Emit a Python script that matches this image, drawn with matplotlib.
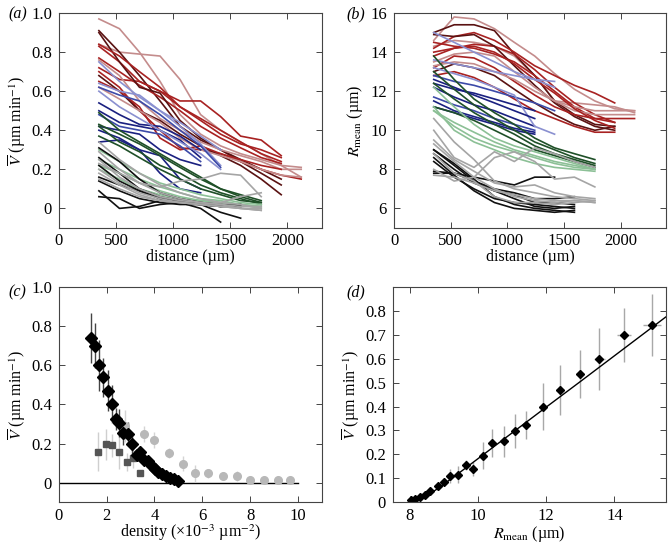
import matplotlib
matplotlib.use('Agg')
from matplotlib import pyplot

pyplot.rcParams['font.family'] = ['Liberation Serif', 'DejaVu Serif']
pyplot.rcParams['mathtext.fontset'] = 'stix'
pyplot.rcParams['font.size'] = 11

# positions along the tissue (um)
DIST = [350, 530, 705, 885, 1060, 1240, 1415, 1590, 1770, 1945, 2120]

# colours of each track family
DARKRED, RED, ROSY = '#5a1212', '#a82222', '#c48c8c'
NAVY, BLUE, LBLUE = '#1a2080', '#3c4aa8', '#8a90d0'
DGREEN, LGREEN = '#1f5028', '#8cc096'
BLACK, GREY = '#111111', '#a5a5a5'

RED_COLORS = [ROSY, ROSY, DARKRED, RED, RED, RED, DARKRED, ROSY, RED, DARKRED, RED, ROSY, RED]
RED_V = [
    [0.97, 0.92, 0.80, 0.65, 0.48, 0.38, 0.32, 0.28, 0.25, 0.22, 0.21],
    [0.84, 0.80, 0.79, 0.78, 0.66, 0.48, 0.40, 0.34, 0.28, 0.22, 0.16],
    [0.91, 0.80, 0.68, 0.55, 0.42, 0.35, 0.30, 0.25, 0.20, 0.15],
    [0.83, 0.75, 0.65, 0.60, 0.55, 0.55, 0.47, 0.37, 0.35, 0.27],
    [0.77, 0.70, 0.63, 0.57, 0.50, 0.42, 0.36, 0.31, 0.26, 0.23],
    [0.72, 0.66, 0.65, 0.60, 0.52, 0.46, 0.40, 0.34, 0.28, 0.24],
    [0.90, 0.75, 0.62, 0.59, 0.45, 0.36, 0.30, 0.24, 0.18, 0.12],
    [0.76, 0.68, 0.55, 0.46, 0.40, 0.34, 0.30, 0.27, 0.24, 0.20, 0.20],
    [0.70, 0.62, 0.50, 0.40, 0.31, 0.30, 0.28, 0.24, 0.20, 0.17, 0.15],
    [0.68, 0.60, 0.50, 0.45, 0.38, 0.32, 0.27, 0.22, 0.15, 0.07],
    [0.65, 0.60, 0.52, 0.36, 0.30, 0.32, 0.28, 0.25, 0.22, 0.20],
    [0.62, 0.56, 0.50, 0.44, 0.36, 0.30, 0.27, 0.24, 0.20, 0.17, 0.16],
    [0.84, 0.78, 0.70, 0.62, 0.52, 0.45, 0.38, 0.33, 0.30, 0.26],
]
RED_R = [
    [14.6, 15.8, 15.7, 15.2, 14.5, 13.8, 12.9, 12.1, 11.5, 11.1, 11.0],
    [14.3, 14.6, 14.5, 14.3, 13.8, 12.8, 11.5, 11.4, 11.3, 11.2, 10.9],
    [15.0, 15.4, 15.4, 15.1, 13.9, 12.8, 11.5, 10.8, 10.3, 10.2],
    [14.2, 14.8, 15.0, 14.6, 14.0, 13.3, 12.8, 12.3, 11.9, 11.4],
    [13.8, 14.2, 14.4, 14.3, 13.9, 13.1, 12.2, 11.4, 10.8, 10.4],
    [14.5, 14.3, 14.2, 13.9, 13.5, 12.8, 12.0, 11.2, 10.6, 10.4],
    [14.9, 14.8, 14.9, 14.3, 13.3, 12.3, 11.4, 10.7, 10.2, 10.0],
    [13.5, 13.9, 14.0, 13.8, 13.0, 12.2, 11.5, 11.0, 10.8, 10.8, 10.8],
    [13.2, 13.8, 13.7, 13.2, 12.5, 11.8, 11.2, 10.8, 10.6, 10.6, 10.6],
    [13.0, 13.4, 13.2, 12.8, 12.1, 11.4, 10.8, 10.3, 10.0, 10.2],
    [12.8, 13.0, 12.7, 12.2, 11.6, 11.0, 10.6, 10.2, 9.9, 9.9],
    [13.3, 13.5, 13.4, 13.0, 12.6, 12.0, 11.5, 11.2, 11.0, 11.0, 11.0],
    [14.0, 14.2, 14.3, 14.0, 13.4, 12.6, 11.9, 11.1, 10.5, 10.1],
]

BLUE_COLORS = [LBLUE, LBLUE, BLUE, NAVY, NAVY, BLUE, NAVY, NAVY, LBLUE, NAVY]
BLUE_V = [
    [0.75, 0.65, 0.57, 0.50, 0.44, 0.37, 0.30],
    [0.64, 0.60, 0.58, 0.50, 0.42, 0.33, 0.22],
    [0.62, 0.58, 0.55, 0.48, 0.40, 0.32, 0.21],
    [0.54, 0.48, 0.43, 0.42, 0.37, 0.30],
    [0.50, 0.44, 0.42, 0.40, 0.35, 0.26],
    [0.48, 0.42, 0.40, 0.38, 0.32, 0.24],
    [0.42, 0.40, 0.38, 0.30, 0.25, 0.22],
    [0.34, 0.35, 0.30, 0.27, 0.15, 0.10],
    [0.60, 0.52, 0.46, 0.40, 0.34, 0.28, 0.20],
    [0.40, 0.36, 0.30, 0.18, 0.10, 0.08],
]
BLUE_R = [
    [15.0, 14.5, 14.0, 13.5, 13.0, 12.6, 12.2],
    [13.6, 13.4, 13.2, 13.0, 12.8, 12.6, 12.5],
    [12.8, 12.5, 12.3, 12.0, 11.7, 11.4, 11.0],
    [12.4, 12.1, 11.9, 11.6, 11.3, 11.0],
    [12.2, 11.7, 11.3, 11.0, 10.6, 10.2],
    [11.7, 11.3, 11.0, 10.6, 10.3, 10.0],
    [11.5, 11.0, 10.7, 10.4, 10.1, 9.9],
    [11.2, 10.9, 10.6, 10.3, 10.0, 9.8],
    [13.2, 12.9, 12.6, 12.2, 11.8, 10.2, 9.8],
    [12.6, 12.2, 11.8, 11.4, 11.0, 10.6],
]

GREEN_COLORS = [DGREEN, DGREEN, DGREEN, DGREEN, LGREEN, LGREEN, LGREEN, LGREEN]
GREEN_V = [
    [0.49, 0.40, 0.34, 0.28, 0.22, 0.16, 0.10, 0.07, 0.04],
    [0.43, 0.38, 0.33, 0.27, 0.21, 0.15, 0.10, 0.06, 0.03],
    [0.42, 0.34, 0.29, 0.22, 0.18, 0.12, 0.08, 0.05, 0.02],
    [0.37, 0.32, 0.26, 0.20, 0.15, 0.10, 0.07, 0.04, 0.03],
    [0.30, 0.24, 0.18, 0.13, 0.10, 0.07, 0.05, 0.03, 0.02],
    [0.25, 0.20, 0.15, 0.11, 0.08, 0.05, 0.04, 0.02, 0.01],
    [0.22, 0.18, 0.13, 0.09, 0.06, 0.04, 0.03, 0.02, 0.00],
    [0.20, 0.15, 0.10, 0.07, 0.05, 0.04, 0.03, 0.02, 0.01],
]
GREEN_R = [
    [13.8, 12.6, 11.6, 10.9, 10.3, 9.6, 9.1, 8.8, 8.5],
    [13.0, 12.1, 11.3, 10.6, 10.0, 9.4, 9.0, 8.6, 8.3],
    [12.4, 11.6, 10.9, 10.3, 9.8, 9.2, 8.8, 8.5, 8.2],
    [11.2, 10.9, 10.5, 10.0, 9.5, 9.0, 8.7, 8.4, 8.1],
    [11.0, 10.4, 9.9, 9.4, 9.0, 8.7, 8.4, 8.2, 8.0],
    [11.0, 10.2, 9.6, 9.2, 8.9, 8.6, 8.3, 8.1, 8.0],
    [11.2, 10.0, 9.4, 9.0, 8.6, 8.3, 8.1, 8.0, 7.9],
    [12.2, 11.2, 10.3, 9.6, 9.2, 8.9, 8.6, 8.3, 8.0],
]

BLACK_V = [
    [0.31, 0.24, 0.15, 0.08, 0.05, 0.03, 0.02, 0.01],
    [0.26, 0.18, 0.10, 0.06, 0.04, 0.03, 0.02, 0.01],
    [0.16, 0.12, 0.09, 0.05, 0.03, 0.02, -0.02, -0.05],
    [0.09, 0.00, 0.01, 0.04, 0.03, 0.00, -0.07],
    [0.06, 0.05, 0.00, 0.02, 0.03, 0.02, 0.01, 0.01],
    [0.14, 0.09, 0.05, 0.03, 0.02, 0.02, 0.01, 0.02],
    [0.22, 0.14, 0.09, 0.05, 0.03, 0.02, 0.01, 0.01],
]
BLACK_R = [
    [9.0, 8.3, 7.5, 6.6, 6.2, 6.0, 5.9, 5.8],
    [8.6, 7.7, 6.9, 6.3, 6.0, 5.9, 5.8, 5.9],
    [8.4, 7.6, 7.0, 6.5, 6.3, 6.2, 6.1, 6.0],
    [7.8, 7.8, 7.6, 7.4, 7.2, 7.6, 7.6],
    [7.9, 7.8, 7.4, 7.0, 6.8, 6.5, 6.5, 6.6],
    [8.8, 8.0, 7.3, 6.9, 6.7, 6.3, 6.3, 6.2],
    [9.0, 8.2, 7.4, 6.9, 6.5, 6.1, 6.0, 6.1],
]

GREY_V = [
    [0.34, 0.25, 0.18, 0.12, 0.08, 0.05, 0.03, 0.02, 0.00],
    [0.29, 0.20, 0.13, 0.08, 0.05, 0.03, 0.02, 0.00, -0.01],
    [0.23, 0.18, 0.13, 0.11, 0.14, 0.15, 0.18, 0.17, 0.06],
    [0.20, 0.13, 0.08, 0.05, 0.03, 0.02, 0.01, 0.00, -0.01],
    [0.18, 0.12, 0.07, 0.04, 0.03, 0.02, 0.03, 0.06, 0.08],
    [0.25, 0.16, 0.10, 0.06, 0.04, 0.03, 0.02, 0.01, 0.01],
    [0.15, 0.10, 0.06, 0.04, 0.03, 0.02, 0.01, 0.00, 0.00],
]
GREY_R = [
    [10.6, 9.4, 8.5, 7.4, 7.0, 6.8, 6.6, 6.5, 6.4],
    [9.3, 8.4, 7.6, 7.0, 6.6, 6.4, 6.3, 6.4, 6.3],
    [10.0, 8.6, 8.1, 8.9, 8.4, 9.1, 8.8, 8.4, 8.1],
    [8.8, 7.8, 7.4, 6.6, 6.3, 6.3, 6.2, 6.3, 6.4],
    [8.0, 7.4, 7.6, 8.6, 8.9, 8.4, 7.5, 7.6, 7.1],
    [9.5, 8.5, 7.9, 7.3, 7.1, 7.2, 6.8, 6.6, 6.5],
    [7.7, 7.6, 7.3, 6.9, 6.7, 6.5, 6.4, 6.4, 6.3],
]

# panel (c): velocity against density
DENS_D = [1.34, 1.52, 1.69, 1.86, 2.04, 2.21, 2.39, 2.51, 2.67, 2.88, 3.07, 3.25,
          3.39, 3.57, 3.74, 3.88, 4.02, 4.16, 4.33, 4.48, 4.65, 4.82, 4.97]
VEL_D = [0.74, 0.70, 0.60, 0.54, 0.47, 0.40, 0.325, 0.305, 0.255, 0.25, 0.195, 0.14,
         0.155, 0.115, 0.11, 0.085, 0.07, 0.055, 0.045, 0.035, 0.025, 0.017, 0.01]
ERR_D = [0.13, 0.115, 0.13, 0.10, 0.105, 0.097, 0.058, 0.07, 0.065, 0.06, 0.055, 0.03,
         0.02, 0.03, 0.02, 0.015, 0.015, 0.012, 0.01, 0.01, 0.01, 0.01, 0.01]
DENS_S = [1.65, 1.96, 2.23, 2.53, 2.83, 3.11, 3.39]
VEL_S = [0.157, 0.195, 0.19, 0.157, 0.105, 0.127, 0.049]
ERR_S = [0.10, 0.08, 0.06, 0.09, 0.045, 0.05, 0.0]
DENS_O = [2.75, 3.56, 3.98, 4.62, 5.18, 5.71, 6.26, 6.86, 7.47, 8.0, 8.57, 9.15, 9.68]
VEL_O = [0.29, 0.25, 0.217, 0.153, 0.097, 0.047, 0.047, 0.035, 0.035, 0.013, 0.015, 0.015, 0.013]
ERR_O = [0.08, 0.04, 0.04, 0.025, 0.04, 0.045, 0.025, 0.02, 0.025, 0.01, 0.01, 0.01, 0.01]
XERR_O = [0.05, 0.1, 0.1, 0.12, 0.1, 0.05, 0.05, 0.08, 0.08, 0.05, 0.05, 0.05, 0.05]

# panel (d): velocity against mean radius
RMEAN = [8.03, 8.15, 8.29, 8.44, 8.59, 8.82, 9.0, 9.19, 9.41, 9.64, 9.86, 10.14,
         10.42, 10.75, 11.07, 11.41, 11.91, 12.4, 12.99, 13.56, 14.27, 15.1]
VEL_R = [0.008, 0.014, 0.021, 0.03, 0.046, 0.067, 0.084, 0.11, 0.115, 0.155, 0.14, 0.195,
         0.248, 0.255, 0.298, 0.323, 0.40, 0.468, 0.537, 0.60, 0.70, 0.74]
VERR_R = [0.005, 0.005, 0.006, 0.008, 0.01, 0.012, 0.015, 0.03, 0.035, 0.02, 0.03, 0.055,
          0.06, 0.065, 0.07, 0.058, 0.097, 0.105, 0.10, 0.13, 0.115, 0.13]
RERR_R = [0.02, 0.02, 0.02, 0.03, 0.03, 0.04, 0.04, 0.05, 0.05, 0.05, 0.05, 0.06,
          0.06, 0.07, 0.08, 0.08, 0.1, 0.12, 0.12, 0.15, 0.2, 0.25]
FIT_R = [8.15, 8.4, 8.7, 9.0, 9.5, 10.0, 11.0, 12.0, 13.0, 14.0, 15.5]
FIT_V = [0.0, 0.018, 0.045, 0.075, 0.128, 0.182, 0.29, 0.398, 0.505, 0.613, 0.775]

VBAR = r'$\overline{V}$ (µm min$^{-1}$)'
RLAB = r'$R_{\mathrm{mean}}$ (µm)'


def style_axes(ax):
    for spine in ax.spines.values():
        spine.set_color('#444444')
        spine.set_linewidth(0.8)
    ax.tick_params(direction='in', top=True, right=True, length=4, width=0.7,
                   color='#444444', labelsize=12)
    ax.tick_params(axis='x', pad=4)
    ax.tick_params(axis='y', pad=5)


def fmt(values):
    return ['0' if v == 0 else ('%g' % v if v != 1 else '1.0') for v in values]


def draw_tracks(ax, groups):
    for lines, colors in groups:
        for vals, col in zip(lines, colors):
            ax.plot(DIST[:len(vals)], vals, color=col, lw=1.2)


fig = pyplot.figure(figsize=(6.69, 5.44), dpi=100)
ax_a = fig.add_axes([0.088, 0.581, 0.393, 0.395])
ax_b = fig.add_axes([0.589, 0.581, 0.407, 0.395])
ax_c = fig.add_axes([0.088, 0.077, 0.393, 0.395])
ax_d = fig.add_axes([0.587, 0.077, 0.408, 0.395])

# (a)
draw_tracks(ax_a, [(RED_V, RED_COLORS), (BLUE_V, BLUE_COLORS), (GREEN_V, GREEN_COLORS),
                   (BLACK_V, [BLACK] * len(BLACK_V)), (GREY_V, [GREY] * len(GREY_V))])
ax_a.set_xlim(0, 2300)
ax_a.set_ylim(-0.1, 1.0)
ax_a.set_xticks([0, 500, 1000, 1500, 2000])
yt = [0, 0.2, 0.4, 0.6, 0.8, 1.0]
ax_a.set_yticks(yt)
ax_a.set_yticklabels(fmt(yt))
ax_a.set_xlabel('distance (µm)', fontsize=11.5, labelpad=0)
ax_a.set_ylabel(VBAR, fontsize=11.5, labelpad=2)

# (b)
draw_tracks(ax_b, [(RED_R, RED_COLORS), (BLUE_R, BLUE_COLORS), (GREEN_R, GREEN_COLORS),
                   (BLACK_R, [BLACK] * len(BLACK_R)), (GREY_R, [GREY] * len(GREY_R))])
ax_b.set_xlim(0, 2400)
ax_b.set_ylim(5, 16)
ax_b.set_xticks([0, 500, 1000, 1500, 2000])
ax_b.set_yticks([6, 8, 10, 12, 14, 16])
ax_b.set_xlabel('distance (µm)', fontsize=11.5, labelpad=0)
ax_b.set_ylabel(RLAB, fontsize=11.5, labelpad=4)

# (c)
ax_c.plot([0, 10], [0, 0], color='black', lw=1.0)
ax_c.errorbar(DENS_O, VEL_O, yerr=ERR_O, xerr=XERR_O, fmt='o', color='#b8b8b8',
              ecolor='#d4d4d4', elinewidth=1.0, ms=5.5, capsize=0)
ax_c.errorbar(DENS_S, VEL_S, yerr=ERR_S, fmt='s', color='#555555',
              ecolor='#cfcfcf', elinewidth=1.0, ms=4, capsize=0)
ax_c.errorbar(DENS_D, VEL_D, yerr=ERR_D, fmt='D', color='black',
              ecolor='#444444', elinewidth=1.0, ms=6, capsize=0)
ax_c.set_xlim(0, 11)
ax_c.set_ylim(-0.1, 1.0)
ax_c.set_xticks([0, 2, 4, 6, 8, 10])
ax_c.set_yticks(yt)
ax_c.set_yticklabels(fmt(yt))
ax_c.set_xlabel(r'density (×10$^{-3}$ µm$^{-2}$)', fontsize=11.5, labelpad=-1)
ax_c.set_ylabel(VBAR, fontsize=11.5, labelpad=2)

# (d)
ax_d.errorbar(RMEAN, VEL_R, yerr=VERR_R, xerr=RERR_R, fmt='D', color='black',
              ecolor='#a8a8a8', elinewidth=1.0, ms=4.5, capsize=0)
ax_d.plot(FIT_R, FIT_V, color='black', lw=1.0)
ax_d.set_xlim(7.5, 15.5)
ax_d.set_ylim(0, 0.9)
ax_d.set_xticks([8, 10, 12, 14])
ydt = [0, 0.1, 0.2, 0.3, 0.4, 0.5, 0.6, 0.7, 0.8]
ax_d.set_yticks(ydt)
ax_d.set_yticklabels(fmt(ydt))
ax_d.set_xlabel(RLAB, fontsize=11.5, labelpad=0)
ax_d.set_ylabel(VBAR, fontsize=11.5, labelpad=2)

for ax in (ax_a, ax_b, ax_c, ax_d):
    style_axes(ax)

fig.text(0.012, 0.988, '(a)', style='italic', fontsize=11.5, va='top')
fig.text(0.518, 0.988, '(b)', style='italic', fontsize=11.5, va='top')
fig.text(0.012, 0.478, '(c)', style='italic', fontsize=11.5, va='top')
fig.text(0.518, 0.478, '(d)', style='italic', fontsize=11.5, va='top')

pyplot.savefig('out.png', dpi=100)
